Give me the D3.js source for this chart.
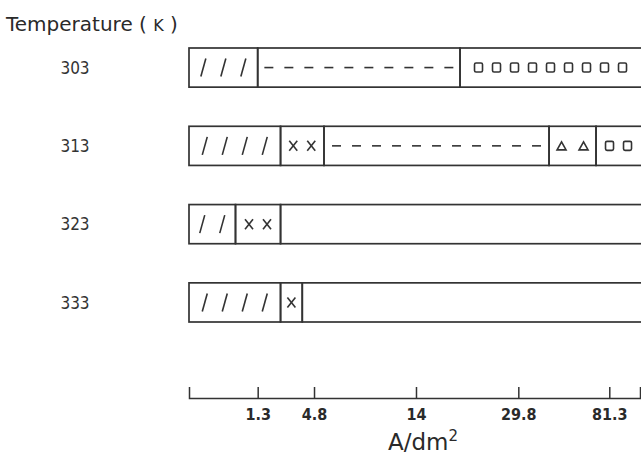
<!DOCTYPE html>
<html>
<head>
<meta charset="utf-8">
<script src="https://cdn.jsdelivr.net/npm/d3@7"></script>
<style>
  body { margin: 0; background: #fff; }
  svg { display: block; }
  .temp { font-family: "DejaVu Sans Condensed", "DejaVu Sans", sans-serif; font-size: 17px; fill: #333; }
  .title { font-family: "DejaVu Sans", sans-serif; font-size: 20px; fill: #2a2a2a; }
  .axis text { font-family: "DejaVu Sans Condensed", "DejaVu Sans", sans-serif; font-size: 16px; font-weight: bold; fill: #2a2a2a; }
  .axis path, .axis line { stroke: #333; stroke-width: 1.5; }
  .unit { font-family: "DejaVu Sans", sans-serif; font-size: 23px; fill: #2a2a2a; }
</style>
</head>
<body>
<script>
// temperatures (K), one bar each
var temps = [303, 313, 323, 333];
// segment boundaries along the current density axis (A/dm2)
var breaks = [
  [0, 1.3, 20.8, 110],
  [0, 2.72, 5.7, 47.2, 73.8, 110],
  [0, 0.88, 2.72, 110],
  [0, 2.72, 4.07, 110]
];
// symbol inside each segment and how many are drawn
var symbols = [
  ["slash", "dash", "square"],
  ["slash", "cross", "dash", "triangle", "square"],
  ["slash", "cross", "none"],
  ["slash", "cross", "none"]
];
var counts = [
  [3, 10, 9],
  [4, 2, 11, 2, 2],
  [2, 2, 0],
  [4, 1, 0]
];
// axis ticks
var tickValues = [1.3, 4.8, 14, 29.8, 81.3];
var tickLabels = ["1.3", "4.8", "14", "29.8", "81.3"];
var axisMax = 100;

var w = 641, h = 455;
var left = 189, right = 640;

var svg = d3.select("body").append("svg")
  .attr("width", w)
  .attr("height", h);

// the printed axis is not uniform, so map tick to tick piecewise
var fracs = [0, 0.1523, 0.2772, 0.5033, 0.7302, 0.9319, 1];
var x = d3.scaleLinear()
  .domain([0].concat(tickValues, [axisMax]))
  .range(fracs.map(function(f) { return left + f * (right - left); }));

var y = d3.scaleBand()
  .domain(temps)
  .range([48, 322])
  .paddingInner(0.5)
  .paddingOuter(0);

var spacing = {slash: 20, dash: 20, cross: 18, triangle: 22, square: 18, none: 0};

// title
var title = svg.append("text")
  .attr("class", "title")
  .attr("x", 6)
  .attr("y", 31)
  .text("Temperature ( ");
title.append("tspan").style("font-size", "16px").text("K");
title.append("tspan").text(" )");

var rows = svg.selectAll(".row")
  .data(temps)
  .enter()
  .append("g")
  .attr("class", "row")
  .attr("transform", function(d) { return "translate(0," + y(d) + ")"; });

var bh = y.bandwidth();

rows.append("text")
  .attr("class", "temp")
  .attr("x", 75)
  .attr("y", bh / 2)
  .attr("dy", "0.36em")
  .attr("text-anchor", "middle")
  .text(function(d) { return d; });

rows.each(function(t, i) {
  var g = d3.select(this);
  var segs = d3.pairs(breaks[i]).map(function(p, j) {
    return {x0: p[0], x1: p[1], sym: symbols[i][j], n: counts[i][j]};
  });

  g.selectAll(".seg")
    .data(segs)
    .enter()
    .append("rect")
    .attr("class", "seg")
    .attr("x", function(d) { return x(d.x0); })
    .attr("y", 0)
    .attr("width", function(d) { return x(d.x1) - x(d.x0); })
    .attr("height", bh)
    .style("fill", "none")
    .style("stroke", "#333")
    .style("stroke-width", 1.7);

  // symbols, centred in the visible part of each segment
  segs.forEach(function(s) {
    var a = x(s.x0), b = Math.min(x(s.x1), w);
    var c = (a + b) / 2, sp = spacing[s.sym];
    var cy = bh / 2;
    d3.range(s.n).forEach(function(k) {
      var cx = c + (k - (s.n - 1) / 2) * sp;
      var m = g.append("g").attr("transform", "translate(" + cx + "," + cy + ")")
        .style("stroke", "#333").style("stroke-width", 1.6).style("fill", "none");
      if (s.sym === "slash") {
        m.append("line").attr("x1", -2.5).attr("y1", 9).attr("x2", 2.5).attr("y2", -9);
      } else if (s.sym === "dash") {
        m.append("line").attr("x1", -4.5).attr("y1", 0).attr("x2", 4.5).attr("y2", 0);
      } else if (s.sym === "cross") {
        m.append("line").attr("x1", -4).attr("y1", -5).attr("x2", 4).attr("y2", 5);
        m.append("line").attr("x1", -4).attr("y1", 5).attr("x2", 4).attr("y2", -5);
      } else if (s.sym === "square") {
        m.append("rect").attr("x", -4).attr("y", -4.5).attr("width", 8).attr("height", 9).attr("rx", 1.5);
      } else if (s.sym === "triangle") {
        m.append("path").attr("d", "M-4.5,4L0,-4L4.5,4Z");
      }
    });
  });
});

// x axis, ticks pointing up, labels below
var xAxis = d3.axisBottom(x)
  .tickValues(tickValues)
  .tickFormat(function(d, i) { return tickLabels[i]; })
  .tickSizeInner(-11)
  .tickSizeOuter(-11)
  .tickPadding(8);

svg.append("g")
  .attr("class", "axis")
  .attr("transform", "translate(0,398)")
  .call(xAxis)
  .call(function(g) { g.selectAll("text").attr("dy", "0.9em"); });

var unit = svg.append("text")
  .attr("class", "unit")
  .attr("x", 388)
  .attr("y", 450)
  .text("A/dm");
unit.append("tspan").attr("dy", -9).style("font-size", "15px").text("2");
</script>
</body>
</html>
